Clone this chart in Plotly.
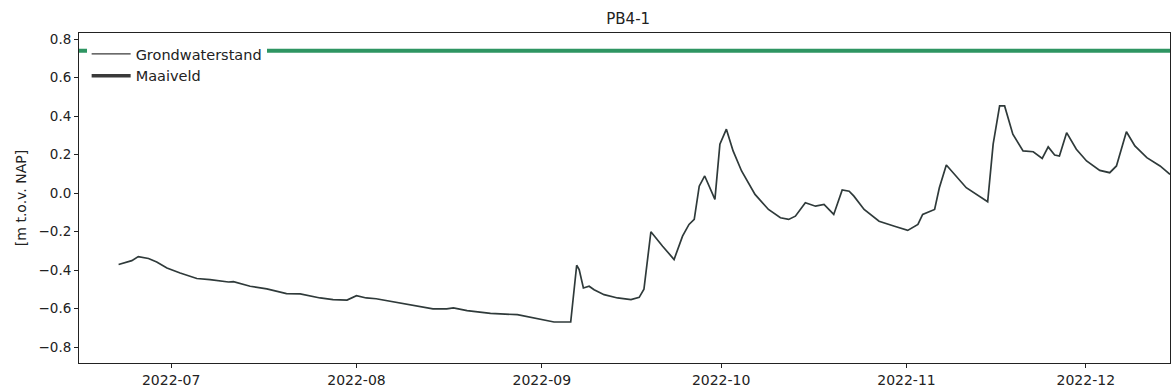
import plotly.graph_objects as go

# Groundwater level series (m t.o.v. NAP)
dates = [
    "2022-06-22 05:00", "2022-06-24 10:00", "2022-06-25 12:00", "2022-06-27 05:00",
    "2022-06-28 14:00", "2022-06-30 07:00", "2022-07-02 12:00", "2022-07-05 07:00",
    "2022-07-07 12:00", "2022-07-10 14:00", "2022-07-11 10:00", "2022-07-14 05:00",
    "2022-07-17 00:00", "2022-07-20 07:00", "2022-07-22 14:00", "2022-07-25 22:00",
    "2022-07-28 02:00", "2022-07-30 10:00", "2022-08-01 00:00", "2022-08-02 15:00",
    "2022-08-04 07:00", "2022-08-06 13:00", "2022-08-09 22:00", "2022-08-13 19:00",
    "2022-08-16 02:00", "2022-08-17 05:00", "2022-08-19 12:00", "2022-08-23 10:00",
    "2022-08-27 22:00", "2022-08-30 02:00", "2022-09-03 01:00", "2022-09-05 20:00",
    "2022-09-06 20:00", "2022-09-07 06:00", "2022-09-07 23:00", "2022-09-08 22:00",
    "2022-09-09 18:00", "2022-09-11 10:00", "2022-09-13 16:00", "2022-09-15 22:00",
    "2022-09-17 07:00", "2022-09-18 02:00", "2022-09-19 06:00", "2022-09-21 05:00",
    "2022-09-23 03:00", "2022-09-24 13:00", "2022-09-25 15:00", "2022-09-26 12:00",
    "2022-09-27 08:00", "2022-09-28 06:00", "2022-09-29 23:00", "2022-09-30 19:00",
    "2022-10-01 21:00", "2022-10-03 00:00", "2022-10-04 10:00", "2022-10-06 16:00",
    "2022-10-08 22:00", "2022-10-10 22:00", "2022-10-12 07:00", "2022-10-13 10:00",
    "2022-10-15 02:00", "2022-10-16 19:00", "2022-10-18 05:00", "2022-10-19 20:00",
    "2022-10-21 06:00", "2022-10-22 10:00", "2022-10-23 05:00", "2022-10-24 22:00",
    "2022-10-27 10:00", "2022-10-30 00:00", "2022-11-01 05:00", "2022-11-02 22:00",
    "2022-11-03 17:00", "2022-11-05 17:00", "2022-11-06 12:00", "2022-11-07 16:00",
    "2022-11-09 07:00", "2022-11-11 00:00", "2022-11-14 14:00", "2022-11-15 12:00",
    "2022-11-16 14:00", "2022-11-17 10:00", "2022-11-18 19:00", "2022-11-20 12:00",
    "2022-11-22 05:00", "2022-11-23 17:00", "2022-11-24 17:00", "2022-11-25 19:00",
    "2022-11-26 14:00", "2022-11-27 19:00", "2022-11-29 10:00", "2022-12-01 03:00",
    "2022-12-03 08:00", "2022-12-05 00:00", "2022-12-06 03:00", "2022-12-07 19:00",
    "2022-12-09 05:00", "2022-12-11 05:00", "2022-12-13 10:00", "2022-12-15 02:00",
]
grondwaterstand = [
    -0.371, -0.351, -0.330, -0.340, -0.358, -0.389, -0.415, -0.444,
    -0.450, -0.462, -0.460, -0.484, -0.498, -0.522, -0.524, -0.545,
    -0.554, -0.556, -0.533, -0.545, -0.549, -0.562, -0.580, -0.602,
    -0.602, -0.597, -0.611, -0.625, -0.632, -0.646, -0.670, -0.670,
    -0.375, -0.398, -0.493, -0.484, -0.502, -0.528, -0.545, -0.554,
    -0.542, -0.500, -0.201, -0.276, -0.345, -0.224, -0.163, -0.137,
    0.036, 0.089, -0.033, 0.254, 0.332, 0.219, 0.115, -0.007,
    -0.085, -0.128, -0.137, -0.120, -0.050, -0.068, -0.059, -0.111,
    0.016, 0.010, -0.016, -0.085, -0.146, -0.172, -0.194, -0.163,
    -0.111, -0.085, 0.028, 0.146, 0.089, 0.028, -0.045, 0.254,
    0.453, 0.453, 0.306, 0.219, 0.215, 0.180, 0.240, 0.198,
    0.193, 0.314, 0.228, 0.167, 0.118, 0.106, 0.141, 0.319,
    0.245, 0.184, 0.141, 0.097,
]

# Ground surface level
maaiveld_dates = ["2022-06-15 14:00", "2022-12-15 02:00"]
maaiveld = [0.74, 0.74]

x_range = ["2022-06-15 14:00", "2022-12-15 02:00"]
y_range = [-0.883, 0.832]
y_ticks = [-0.8, -0.6, -0.4, -0.2, 0.0, 0.2, 0.4, 0.6, 0.8]
x_ticks = ["2022-07-01", "2022-08-01", "2022-09-01", "2022-10-01", "2022-11-01", "2022-12-01"]
x_tick_labels = ["2022-07", "2022-08", "2022-09", "2022-10", "2022-11", "2022-12"]

FONT = "DejaVu Sans, sans-serif"
DARK = "#2f3a3a"

fig = go.Figure()

fig.add_trace(go.Scatter(
    x=maaiveld_dates, y=maaiveld, mode="lines",
    line=dict(color="#2e9562", width=4), showlegend=False, hoverinfo="skip",
))
fig.add_trace(go.Scatter(
    x=dates, y=grondwaterstand, mode="lines",
    line=dict(color=DARK, width=1.7), showlegend=False,
))

# legend entries
fig.add_trace(go.Scatter(
    x=[None], y=[None], mode="lines", name="Grondwaterstand",
    line=dict(color="#3a3a3a", width=1.2),
))
fig.add_trace(go.Scatter(
    x=[None], y=[None], mode="lines", name="Maaiveld",
    line=dict(color="#3a3a3a", width=3.5),
))

fig.update_layout(
    width=1172, height=392,
    margin=dict(l=79, r=2, t=33, b=29),
    paper_bgcolor="white", plot_bgcolor="white",
    font=dict(family=FONT, size=13, color="#222"),
    title=dict(text="PB4-1", x=0.536, xref="container", xanchor="center",
               y=0.953, yref="container", yanchor="middle",
               font=dict(family=FONT, size=15, color="#222")),
    legend=dict(x=0.007, y=0.985, xanchor="left", yanchor="top",
                bgcolor="white", borderwidth=0,
                font=dict(family=FONT, size=14.5, color="#222"),
                tracegroupgap=0, itemwidth=39),
    showlegend=True,
)

fig.update_xaxes(
    type="date", range=x_range,
    tickmode="array", tickvals=x_ticks, ticktext=x_tick_labels,
    showgrid=False, zeroline=False,
    showline=True, linecolor="#222", linewidth=1, mirror=True,
    ticks="outside", ticklen=4, tickcolor="#222",
    tickfont=dict(family=FONT, size=14, color="#222"),
)
fig.update_yaxes(
    range=y_range,
    tickmode="array", tickvals=y_ticks, tickformat=".1f",
    showgrid=False, zeroline=False,
    showline=True, linecolor="#222", linewidth=1, mirror=True,
    ticks="outside", ticklen=4, tickcolor="#222",
    tickfont=dict(family=FONT, size=13.5, color="#222"),
    title=dict(text="[m t.o.v. NAP]", standoff=8,
               font=dict(family=FONT, size=14, color="#222")),
)

fig.write_html("out.html")
